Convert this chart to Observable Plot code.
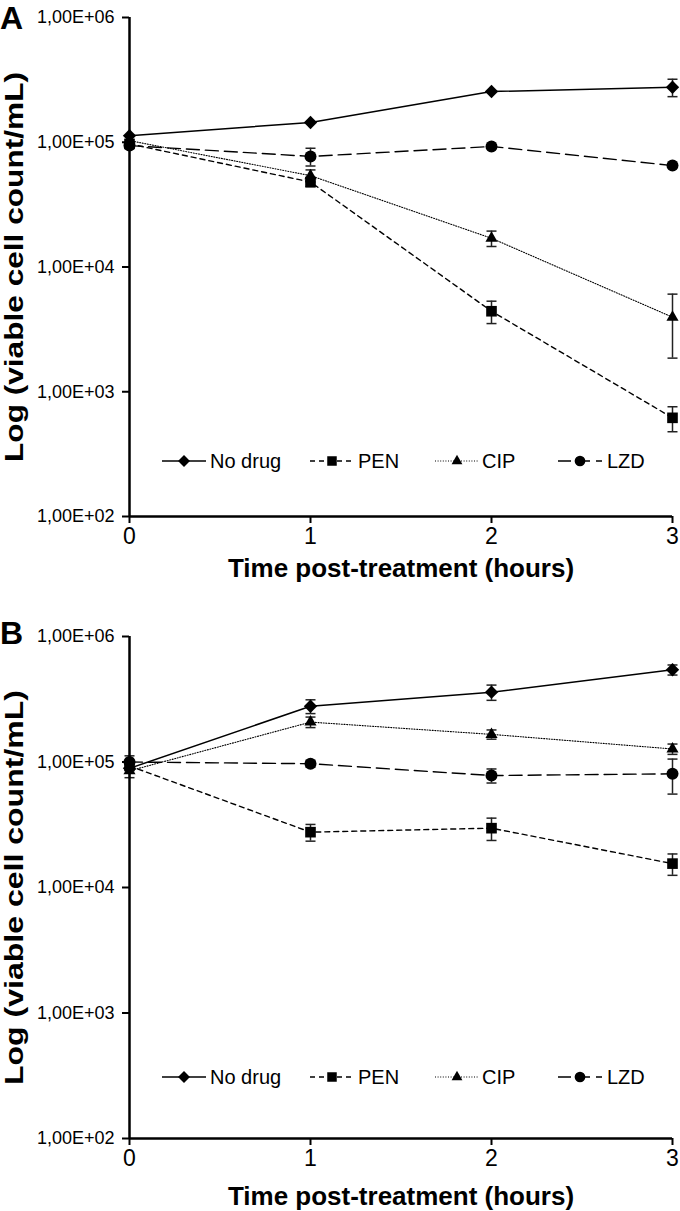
<!DOCTYPE html>
<html><head><meta charset="utf-8">
<script src="https://cdn.jsdelivr.net/npm/d3@7"></script>
<script src="https://cdn.jsdelivr.net/npm/@observablehq/plot@0.6"></script>
<style>
body{margin:0;background:#fff;font-family:"Liberation Sans",Arial,Helvetica,sans-serif;color:#000;}
.panel{position:relative;width:680px;}
.panel svg{display:block;}
.letter{position:absolute;left:0;font-weight:bold;font-size:32px;line-height:1;}
.leg{position:absolute;font-size:20px;line-height:20px;white-space:nowrap;}
.legsym{position:absolute;}
</style></head><body>
<div id="A" class="panel"></div>
<div id="B" class="panel"></div>
<script>
// ---------- data ----------
const times = [0, 1, 2, 3];
const seriesNames = ["No drug", "PEN", "CIP", "LZD"];
const yTickValues = [1e2, 1e3, 1e4, 1e5, 1e6];
const yTickLabels = ["1,00E+02", "1,00E+03", "1,00E+04", "1,00E+05", "1,00E+06"];
const xTickLabels = ["0", "1", "2", "3"];
const xTitle = "Time post-treatment (hours)";
const yTitle = "Log (viable cell count/mL)";

// Panel A: mean viable counts and SD (linear)
const aNoDrug    = [1.13e5, 1.44e5, 2.55e5, 2.76e5];
const aNoDrugSd  = [0, 0, 0, 4.4e4];
const aPEN       = [9.7e4, 4.8e4, 4.42e3, 618];
const aPENSd     = [0, 4e3, 9e2, 140];
const aCIP       = [1.03e5, 5.4e4, 1.70e4, 3.96e3];
const aCIPSd     = [0, 6e3, 2.4e3, 2.1e3];
const aLZD       = [9.4e4, 7.7e4, 9.25e4, 6.5e4];
const aLZDSd     = [0, 1.25e4, 0, 0];

// Panel B
const bNoDrug    = [8.9e4, 2.78e5, 3.60e5, 5.43e5];
const bNoDrugSd  = [0, 3.5e4, 5e4, 5e4];
const bPEN       = [9.3e4, 2.76e4, 2.97e4, 1.55e4];
const bPENSd     = [0, 4.2e3, 6e3, 3e3];
const bCIP       = [8.5e4, 2.08e5, 1.66e5, 1.27e5];
const bCIPSd     = [1e4, 2e4, 1.4e4, 1.2e4];
const bLZD       = [1.0e5, 9.69e4, 7.80e4, 8.05e4];
const bLZDSd     = [1.2e4, 6e3, 1.0e4, 2.5e4];

// ---------- styles ----------
const styles = {
  "No drug": {dash: null, width: 1.5, symbol: "diamond2", r: 6},
  "PEN":     {dash: "5,4", width: 1.4, symbol: "square", r: 6},
  "CIP":     {dash: "1,1.6", width: 1.1, symbol: "triangle", r: 4.5},
  "LZD":     {dash: "13,6", width: 1.4, symbol: "circle", r: 6}
};
const capSymbol = {draw(ctx, size){ const h = Math.sqrt(size/Math.PI); ctx.moveTo(-h,0); ctx.lineTo(h,0); }};

function rowsFor(means, sds){
  const out = [];
  seriesNames.forEach((s, i) => {
    means[i].forEach((v, j) => {
      const sd = sds[i][j];
      out.push({series: s, t: times[j], v, sd, lo: v - sd, hi: v + sd});
    });
  });
  return out;
}

function panel(id, letter, means, sds, dims){
  const rows = rowsFor(means, sds);
  const err = rows.filter(d => d.sd > 0);
  const marks = [];
  // error bars
  marks.push(Plot.ruleX(err, {x: "t", y1: "lo", y2: "hi", stroke: "#222", strokeWidth: 1.5}));
  marks.push(Plot.dot(err, {x: "t", y: "lo", symbol: capSymbol, r: 5, stroke: "#222", strokeWidth: 1.5, fill: "none"}));
  marks.push(Plot.dot(err, {x: "t", y: "hi", symbol: capSymbol, r: 5, stroke: "#222", strokeWidth: 1.5, fill: "none"}));
  // lines
  for (const s of seriesNames){
    const st = styles[s];
    marks.push(Plot.line(rows.filter(d => d.series === s), {x: "t", y: "v", stroke: "#000", strokeWidth: st.width, strokeDasharray: st.dash}));
  }
  // markers
  for (const s of seriesNames){
    const st = styles[s];
    marks.push(Plot.dot(rows.filter(d => d.series === s), {x: "t", y: "v", symbol: st.symbol, r: st.r, fill: "#000", stroke: "none"}));
  }
  // axes
  marks.push(Plot.axisY({ticks: yTickValues, tickFormat: d => yTickLabels[yTickValues.indexOf(d)], tickSize: 7, tickPadding: 8, fontSize: 18, strokeWidth: 2, label: null}));
  marks.push(Plot.axisX({ticks: times, tickFormat: d => xTickLabels[times.indexOf(d)], tickSize: 7, tickPadding: 4, fontSize: 23, strokeWidth: 2, label: null}));
  marks.push(Plot.ruleX([0], {y1: yTickValues[0], y2: yTickValues[4], strokeWidth: 2.5}));
  marks.push(Plot.ruleY([yTickValues[0]], {x1: times[0], x2: times[3], strokeWidth: 2.5}));
  // titles
  marks.push(Plot.text([yTitle], {frameAnchor: "left", textAnchor: "middle", lineAnchor: "middle", dx: -115, rotate: -90, fontSize: 25, fontWeight: "bold", text: d => d}));
  marks.push(Plot.text([xTitle], {frameAnchor: "bottom", textAnchor: "middle", lineAnchor: "middle", dy: dims.xTitleDy, fontSize: 26, fontWeight: "bold", text: d => d}));

  const chart = Plot.plot({
    width: 680, height: dims.height,
    marginTop: dims.top, marginBottom: dims.bottom, marginLeft: 129, marginRight: 8,
    style: {fontFamily: "'Liberation Sans', Arial, sans-serif", color: "#000", background: "#fff", overflow: "visible"},
    x: {domain: [0, 3], axis: null},
    y: {type: "log", domain: [1e2, 1e6], axis: null},
    marks
  });
  const host = document.getElementById(id);
  host.appendChild(chart);
  // stretch y title along its length
  d3.select(chart).selectAll("text").filter(function(){ return this.textContent === yTitle; })
    .attr("textLength", dims.yTitleLen).attr("lengthAdjust", "spacingAndGlyphs");

  // panel letter
  const L = document.createElement("div");
  L.className = "letter"; L.textContent = letter; L.style.top = dims.letterTop + "px";
  host.appendChild(L);

  // legend
  const lineStarts = [162, 310, 435, 558];
  const textStarts = [210, 358, 482, 607];
  seriesNames.forEach((s, i) => {
    const st = styles[s];
    const svg = d3.create("svg").attr("width", 44).attr("height", 20).attr("class", "legsym")
      .style("left", lineStarts[i] + "px").style("top", (dims.legendY - 10) + "px");
    svg.append("line").attr("x1", 0).attr("x2", 44).attr("y1", 10).attr("y2", 10)
      .attr("stroke", "#000").attr("stroke-width", st.width).attr("stroke-dasharray", st.dash);
    svg.append("path").attr("transform", "translate(22,10)")
      .attr("d", d3.symbol(s === "No drug" ? d3.symbolDiamond2 : s === "PEN" ? d3.symbolSquare : s === "CIP" ? d3.symbolTriangle : d3.symbolCircle, Math.PI * st.r * st.r * 0.8)());
    host.appendChild(svg.node());
    const t = document.createElement("div");
    t.className = "leg"; t.textContent = s;
    t.style.left = textStarts[i] + "px"; t.style.top = (dims.legendY - 10) + "px";
    host.appendChild(t);
  });
}

panel("A", "A", [aNoDrug, aPEN, aCIP, aLZD], [aNoDrugSd, aPENSd, aCIPSd, aLZDSd],
  {height: 590, top: 17, bottom: 74, yTitleLen: 390, letterTop: 2, legendY: 461, xTitleDy: 52});
panel("B", "B", [bNoDrug, bPEN, bCIP, bLZD], [bNoDrugSd, bPENSd, bCIPSd, bLZDSd],
  {height: 621, top: 46, bottom: 73, yTitleLen: 395, letterTop: 27, legendY: 487, xTitleDy: 58});
</script>
</body></html>
